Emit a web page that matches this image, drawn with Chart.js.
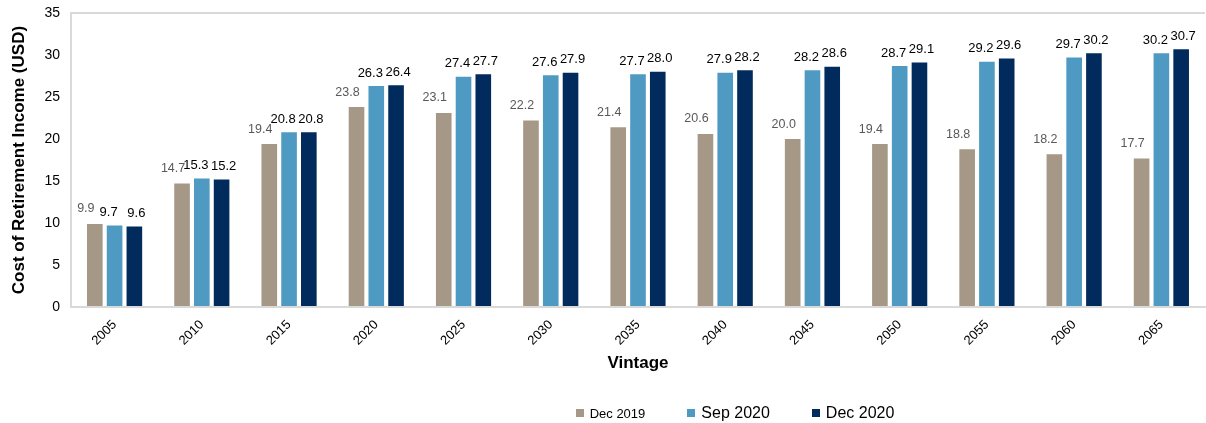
<!DOCTYPE html>
<html>
<head>
<meta charset="utf-8">
<script src="https://cdn.jsdelivr.net/npm/chart.js@4.4.1/dist/chart.umd.min.js"></script>
<style>
  html, body { margin: 0; padding: 0; background: #fff; }
  #wrap { position: relative; width: 1206px; height: 423px; }
  #legend { position: absolute; left: 0; top: 403px; width: 1206px; height: 20px; display: flex; align-items: center; justify-content: center; padding-left: 264px; box-sizing: border-box; font-family: "Liberation Sans", Arial, sans-serif; color: #000; }
  .item { display: flex; align-items: center; margin-right: 42px; }
  .item:last-child { margin-right: 0; }
  .sw { width: 8px; height: 8px; margin-right: 6px; }
</style>
</head>
<body>
<div id="wrap">
  <canvas id="chart" width="1206" height="423"></canvas>
  <div id="legend"></div>
</div>
<script>
// Vintage yılları
const vintages = ["2005", "2010", "2015", "2020", "2025", "2030", "2035", "2040", "2045", "2050", "2055", "2060", "2065"];
const dec2019 = [9.9, 14.7, 19.4, 23.8, 23.1, 22.2, 21.4, 20.6, 20.0, 19.4, 18.8, 18.2, 17.7];
const sep2020 = [9.7, 15.3, 20.8, 26.3, 27.4, 27.6, 27.7, 27.9, 28.2, 28.7, 29.2, 29.7, 30.2];
const dec2020 = [9.6, 15.2, 20.8, 26.4, 27.7, 27.9, 28.0, 28.2, 28.6, 29.1, 29.6, 30.2, 30.7];
const seriesNames = ["Dec 2019", "Sep 2020", "Dec 2020"];
const yTicks = [0, 5, 10, 15, 20, 25, 30, 35];

const colors = ["#A69886", "#4F9AC3", "#002B5C"];
const FONT = "'Liberation Sans', Arial, sans-serif";

// Etiket kaydırmaları (seri başına)
const labelShiftX = [-9, -6, 2];
const labelShiftY = [-15, -13, -13];

// Çubukların üstüne değer yaz
const valueLabels = {
    id: "valueLabels",
    afterDatasetsDraw(chart) {
        const ctx = chart.ctx;
        ctx.save();
        ctx.textAlign = "center";
        ctx.textBaseline = "middle";
        chart.data.datasets.forEach((ds, i) => {
            const meta = chart.getDatasetMeta(i);
            ctx.fillStyle = i === 0 ? "#595959" : "#000";
            ctx.font = (i === 0 ? "12.5px " : "13px ") + FONT;
            meta.data.forEach((bar, j) => {
                ctx.fillText(ds.data[j].toFixed(1), bar.x + labelShiftX[i], bar.y + labelShiftY[i]);
            });
        });
        ctx.restore();
    }
};

const chart = new Chart(document.getElementById("chart"), {
    type: "bar",
    data: {
        labels: vintages,
        datasets: [dec2019, sep2020, dec2020].map((d, i) => ({
            label: seriesNames[i],
            data: d,
            backgroundColor: colors[i],
            categoryPercentage: 0.68,
            barPercentage: 0.79
        }))
    },
    options: {
        responsive: false,
        animation: false,
        layout: { padding: { top: 13, right: 1, bottom: 45, left: 5 } },
        plugins: {
            legend: { display: false },
            tooltip: { enabled: false }
        },
        scales: {
            x: {
                grid: { display: false },
                border: { color: "#D9D9D9", width: 2 },
                afterFit: s => { s.paddingTop = 0; },
                ticks: { color: "#000", font: { family: FONT, size: 13 }, minRotation: 45, maxRotation: 45, padding: 2 },
                title: { display: true, text: "Vintage", color: "#000", font: { family: FONT, size: 17, weight: "bold" }, padding: { top: 3 } }
            },
            y: {
                min: 0,
                max: 35,
                afterBuildTicks: axis => { axis.ticks = yTicks.map(v => ({ value: v })); },
                afterFit: s => { s.paddingTop = 0; },
                grid: {
                    drawTicks: false,
                    color: c => c.tick && c.tick.value === 35 ? "#D9D9D9" : "rgba(0,0,0,0)",
                    lineWidth: 2
                },
                border: { color: "#D9D9D9", width: 2 },
                ticks: { color: "#000", font: { family: FONT, size: 14 }, padding: 11 },
                title: { display: true, text: "Cost of Retirement Income (USD)", color: "#000", font: { family: FONT, size: 17, weight: "bold" }, padding: { bottom: 4 } }
            }
        }
    },
    plugins: [valueLabels]
});

// Lejant (HTML)
const legendSizes = [13, 16, 16];
const legend = document.getElementById("legend");
seriesNames.forEach((name, i) => {
    legend.innerHTML += `<div class="item"><div class="sw" style="background:${colors[i]}"></div><span style="font-size:${legendSizes[i]}px">${name}</span></div>`;
});
</script>
</body>
</html>
